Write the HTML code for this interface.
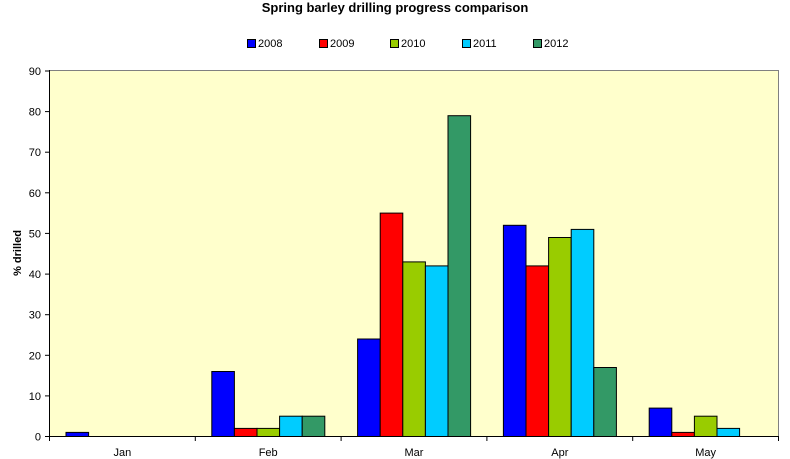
<!DOCTYPE html>
<html><head><meta charset="utf-8"><style>body{margin:0;background:#fff}svg{display:block}text{font-family:"Liberation Sans",Arial,sans-serif}</style></head><body>
<svg width="790" height="459" xmlns="http://www.w3.org/2000/svg">
<text x="395" y="12" text-anchor="middle" font-size="13" font-weight="bold">Spring barley drilling progress comparison</text>
<g font-size="11">
<rect x="247.5" y="39.5" width="8" height="8" fill="#0000ff" stroke="#000"/><text x="258" y="47">2008</text>
<rect x="319.5" y="39.5" width="8" height="8" fill="#ff0000" stroke="#000"/><text x="330" y="47">2009</text>
<rect x="390.5" y="39.5" width="8" height="8" fill="#99cc00" stroke="#000"/><text x="401" y="47">2010</text>
<rect x="462.5" y="39.5" width="8" height="8" fill="#00ccff" stroke="#000"/><text x="473" y="47">2011</text>
<rect x="533.5" y="39.5" width="8" height="8" fill="#339966" stroke="#000"/><text x="544" y="47">2012</text>
</g>
<rect x="49.5" y="70.5" width="729" height="366" fill="#ffffcc" stroke="#808080"/>
<g stroke="#000" stroke-width="1">
<rect x="66" y="432.4" width="22.6" height="4.1" fill="#0000ff"/>
<rect x="211.8" y="371.5" width="22.6" height="65" fill="#0000ff"/>
<rect x="234.4" y="428.4" width="22.6" height="8.1" fill="#ff0000"/>
<rect x="257" y="428.4" width="22.6" height="8.1" fill="#99cc00"/>
<rect x="279.6" y="416.2" width="22.6" height="20.3" fill="#00ccff"/>
<rect x="302.2" y="416.2" width="22.6" height="20.3" fill="#339966"/>
<rect x="357.6" y="339" width="22.6" height="97.5" fill="#0000ff"/>
<rect x="380.2" y="213.1" width="22.6" height="223.4" fill="#ff0000"/>
<rect x="402.8" y="261.9" width="22.6" height="174.6" fill="#99cc00"/>
<rect x="425.4" y="265.9" width="22.6" height="170.6" fill="#00ccff"/>
<rect x="448" y="115.7" width="22.6" height="320.8" fill="#339966"/>
<rect x="503.4" y="225.3" width="22.6" height="211.2" fill="#0000ff"/>
<rect x="526" y="265.9" width="22.6" height="170.6" fill="#ff0000"/>
<rect x="548.6" y="237.5" width="22.6" height="199" fill="#99cc00"/>
<rect x="571.2" y="229.4" width="22.6" height="207.1" fill="#00ccff"/>
<rect x="593.8" y="367.5" width="22.6" height="69" fill="#339966"/>
<rect x="649.2" y="408.1" width="22.6" height="28.4" fill="#0000ff"/>
<rect x="671.8" y="432.4" width="22.6" height="4.1" fill="#ff0000"/>
<rect x="694.4" y="416.2" width="22.6" height="20.3" fill="#99cc00"/>
<rect x="717" y="428.4" width="22.6" height="8.1" fill="#00ccff"/>
</g>
<g stroke="#000" stroke-width="1">
<line x1="49.5" y1="70" x2="49.5" y2="441"/>
<line x1="49" y1="436.5" x2="779" y2="436.5"/>
<line x1="195.3" y1="436" x2="195.3" y2="441"/>
<line x1="341.1" y1="436" x2="341.1" y2="441"/>
<line x1="486.9" y1="436" x2="486.9" y2="441"/>
<line x1="632.7" y1="436" x2="632.7" y2="441"/>
<line x1="778.5" y1="436" x2="778.5" y2="441"/>
<line x1="45" y1="436.5" x2="49.5" y2="436.5"/>
<line x1="45" y1="395.9" x2="49.5" y2="395.9"/>
<line x1="45" y1="355.3" x2="49.5" y2="355.3"/>
<line x1="45" y1="314.7" x2="49.5" y2="314.7"/>
<line x1="45" y1="274.1" x2="49.5" y2="274.1"/>
<line x1="45" y1="233.4" x2="49.5" y2="233.4"/>
<line x1="45" y1="192.8" x2="49.5" y2="192.8"/>
<line x1="45" y1="152.2" x2="49.5" y2="152.2"/>
<line x1="45" y1="111.6" x2="49.5" y2="111.6"/>
<line x1="45" y1="71" x2="49.5" y2="71"/>
</g>
<g font-size="11" text-anchor="end">
<text x="41" y="440.5">0</text>
<text x="41" y="399.9">10</text>
<text x="41" y="359.3">20</text>
<text x="41" y="318.7">30</text>
<text x="41" y="278.1">40</text>
<text x="41" y="237.4">50</text>
<text x="41" y="196.8">60</text>
<text x="41" y="156.2">70</text>
<text x="41" y="115.6">80</text>
<text x="41" y="75">90</text>
</g>
<g font-size="11" text-anchor="middle">
<text x="122.4" y="456">Jan</text>
<text x="268.2" y="456">Feb</text>
<text x="414" y="456">Mar</text>
<text x="559.8" y="456">Apr</text>
<text x="705.6" y="456">May</text>
</g>
<text transform="translate(21,253) rotate(-90)" text-anchor="middle" font-size="11" font-weight="bold">% drilled</text>
</svg>
</body></html>
